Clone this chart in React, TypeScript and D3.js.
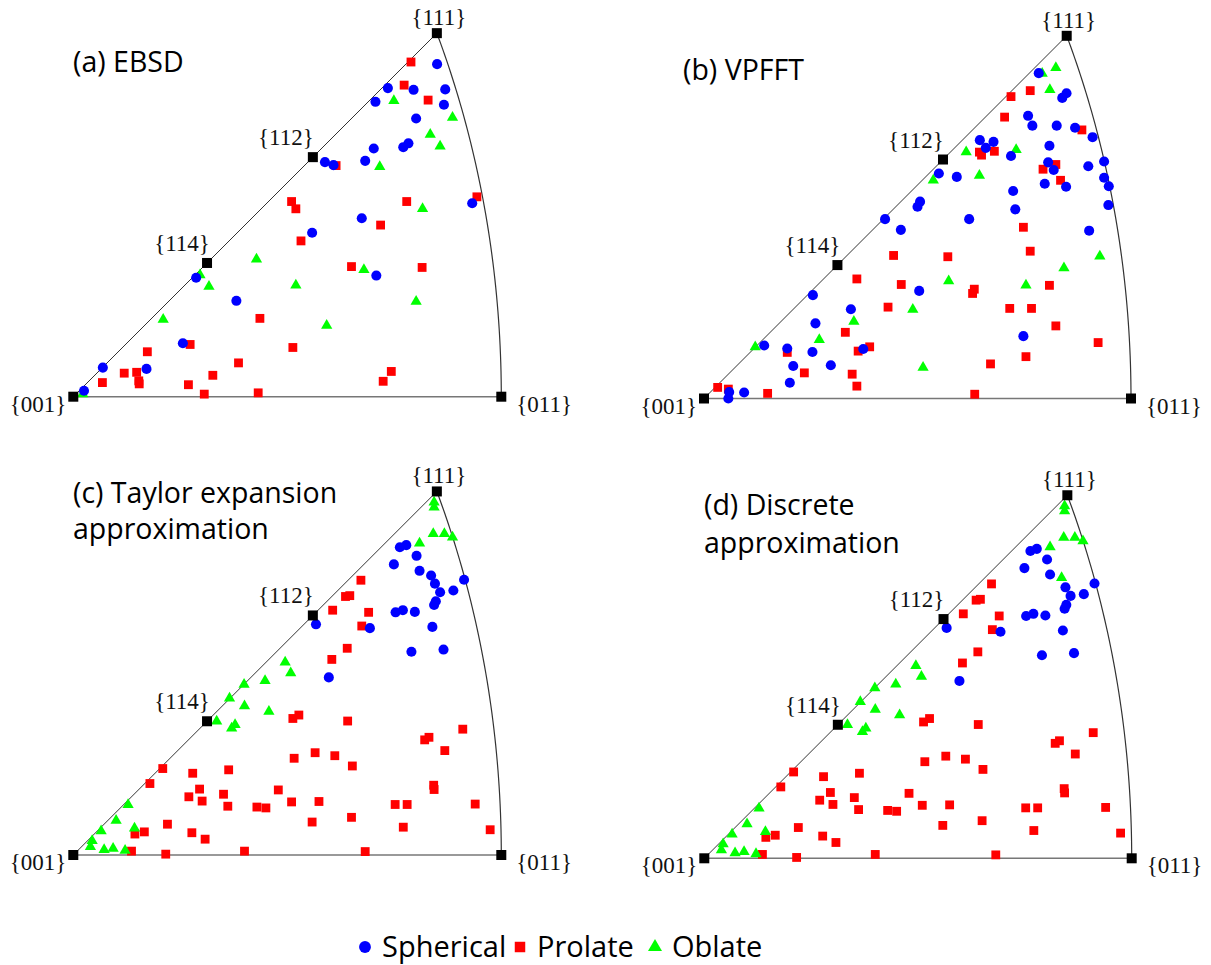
import React from 'react';
import * as d3 from 'd3';

type P = [number, number];

// Coordinates: equal-area projected positions, in percent of the {001}-{011} edge length
const aSpherical: P[] = [[85.0,77.7],[73.5,72.1],[79.5,71.7],[86.9,71.8],[70.6,68.9],[86.6,68.2],[80.1,65.0],[70.2,58.0],[77.1,58.3],[78.3,59.2],[68.2,55.1],[58.8,54.8],[60.8,54.1],[93.2,45.2],[67.4,41.7],[55.8,38.3],[70.8,28.3],[38.1,22.4],[28.7,27.8],[25.6,12.5],[6.9,6.8],[17.1,6.5],[2.5,1.4]];
const aProlate: P[] = [[78.9,78.2],[77.3,72.8],[82.9,69.3],[61.4,54.0],[77.9,45.6],[94.3,46.7],[51.0,45.6],[52.0,43.9],[71.8,40.1],[53.2,36.4],[65.0,30.4],[81.5,30.2],[43.6,18.3],[51.3,11.5],[38.6,7.9],[74.3,5.9],[72.4,3.6],[43.2,0.9],[27.3,12.2],[17.3,10.5],[11.9,5.5],[14.8,5.7],[15.3,3.7],[15.4,3.0],[6.8,3.3],[26.9,2.8],[32.6,5.0],[30.6,0.6]];
const aOblate: P[] = [[74.9,68.9],[88.6,65.0],[83.4,61.0],[85.7,58.3],[71.6,53.5],[81.6,43.7],[42.8,31.9],[67.9,29.4],[52.0,25.8],[80.1,22.0],[59.2,16.4],[29.6,28.2],[31.7,25.5],[21.0,17.8],[2.2,0.4]];

const bSpherical: P[] = [[78.4,76.2],[84.9,71.5],[83.9,70.4],[75.9,66.2],[76.9,63.9],[82.6,63.9],[86.9,63.4],[91.0,61.2],[64.6,60.5],[67.8,60.1],[66.0,58.7],[80.9,59.2],[71.9,56.8],[80.6,55.3],[81.9,53.5],[90.0,54.4],[93.7,55.5],[55.0,52.7],[59.2,51.9],[93.7,51.7],[94.8,49.7],[79.8,50.3],[84.8,49.6],[72.4,48.6],[50.6,46.1],[50.0,44.9],[72.9,44.3],[94.7,45.3],[42.4,42.0],[62.1,42.0],[46.1,39.5],[90.2,39.3],[50.4,25.2],[34.4,20.9],[37.3,11.6],[74.8,14.6],[25.5,24.2],[26.1,17.6],[14.1,12.4],[19.5,11.7],[25.4,10.9],[20.9,7.6],[29.7,7.8],[20.1,3.7],[5.9,1.5],[9.4,1.4],[5.7,0.0]];
const bProlate: P[] = [[71.9,70.7],[76.4,72.1],[70.4,65.9],[88.5,62.9],[64.5,57.7],[65.0,57.0],[68.0,57.9],[82.4,54.8],[79.4,53.7],[83.5,51.1],[74.8,40.1],[76.4,34.5],[44.4,33.5],[57.1,33.2],[35.8,28.0],[46.2,26.7],[63.3,25.6],[62.9,24.6],[80.9,26.5],[43.1,21.4],[71.6,21.1],[76.7,21.1],[82.4,17.0],[38.8,12.1],[36.1,11.1],[92.3,13.1],[75.4,9.8],[67.1,8.1],[34.7,5.7],[35.8,2.9],[63.4,1.0],[33.1,15.5],[19.5,10.8],[23.5,6.0],[3.2,2.6],[5.7,2.2],[14.9,1.2]];
const bOblate: P[] = [[82.4,77.2],[79.2,75.9],[81.0,72.1],[61.4,57.5],[73.1,58.0],[64.5,52.0],[53.7,50.9],[92.7,33.1],[84.3,30.3],[57.3,27.3],[75.4,26.3],[48.9,20.6],[35.1,17.8],[51.3,7.0],[27.0,13.5],[12.0,11.8]];

const cSpherical: P[] = [[76.3,71.9],[77.8,72.4],[80.2,69.9],[74.9,67.9],[80.9,66.4],[83.6,65.3],[84.5,63.4],[91.3,64.3],[85.7,61.4],[88.8,61.8],[84.7,59.3],[84.3,58.4],[75.3,56.7],[77.0,57.2],[79.8,56.8],[56.7,53.9],[69.3,53.0],[83.9,53.3],[79.0,47.5],[86.5,48.0],[59.7,41.5]];
const cProlate: P[] = [[67.2,64.2],[63.6,60.4],[64.6,60.6],[60.6,57.2],[69.0,56.7],[67.4,53.5],[64.0,48.3],[60.4,45.7],[52.7,32.7],[51.3,31.9],[56.5,23.9],[51.6,22.6],[20.9,20.2],[36.3,19.9],[27.9,19.1],[17.9,16.7],[29.5,15.4],[47.9,15.2],[27.0,13.6],[35.1,14.2],[30.1,12.6],[51.0,12.4],[57.4,12.5],[36.1,11.4],[42.9,11.2],[45.0,11.0],[55.8,7.7],[22.0,7.2],[16.6,5.4],[14.4,4.9],[27.7,5.2],[30.8,3.7],[40.0,0.9],[13.6,0.9],[21.6,0.2],[64.1,31.3],[91.0,29.4],[83.1,27.5],[82.1,26.9],[61.1,23.2],[86.8,24.4],[65.2,20.8],[84.2,16.3],[84.3,15.3],[75.2,11.8],[78.0,11.8],[93.9,11.9],[65.0,8.8],[77.1,6.5],[97.4,5.9],[68.2,0.8]];
const cOblate: P[] = [[84.3,82.2],[84.3,81.0],[84.1,74.8],[86.7,74.8],[88.6,74.0],[80.9,72.6],[49.5,44.8],[50.8,42.3],[44.8,40.5],[39.9,39.6],[36.5,36.4],[40.0,34.6],[45.7,33.3],[33.5,31.0],[37.8,30.2],[37.0,29.4],[12.8,11.5],[10.0,7.8],[6.5,5.4],[14.3,6.0],[4.4,3.1],[4.0,1.7],[7.2,1.0],[9.3,1.3],[12.1,0.8]];

const dSpherical: P[] = [[76.3,71.9],[77.8,72.4],[80.2,69.9],[74.9,67.9],[80.9,66.4],[84.5,63.4],[91.3,64.3],[85.7,61.4],[88.8,61.8],[84.7,59.3],[84.3,58.4],[75.3,56.7],[77.0,57.2],[79.8,56.8],[56.7,53.9],[69.3,53.0],[83.9,53.3],[79.0,47.5],[86.5,48.0],[59.7,41.5]];
const dProlate: P[] = [[67.2,64.2],[63.6,60.4],[64.6,60.6],[60.6,57.2],[69.0,56.7],[67.4,53.5],[64.0,48.3],[60.4,45.7],[52.7,32.7],[51.3,31.9],[56.5,23.9],[51.6,22.6],[20.9,20.2],[36.3,19.9],[27.9,19.1],[17.9,16.7],[29.5,15.4],[47.9,15.2],[27.0,13.6],[35.1,14.2],[30.1,12.6],[51.0,12.4],[57.4,12.5],[36.1,11.4],[42.9,11.2],[45.0,11.0],[55.8,7.7],[22.0,7.2],[16.6,5.4],[14.4,4.9],[27.7,5.2],[30.8,3.7],[40.0,0.9],[13.6,0.9],[21.6,0.2],[64.1,31.3],[91.0,29.4],[83.1,27.5],[82.1,26.9],[61.1,23.2],[86.8,24.4],[65.2,20.8],[84.2,16.3],[84.3,15.3],[75.2,11.8],[78.0,11.8],[93.9,11.9],[65.0,8.8],[77.1,6.5],[97.4,5.9],[68.2,0.8]];
const dOblate: P[] = [[84.3,82.2],[84.3,81.0],[84.1,74.8],[86.7,74.8],[88.6,74.0],[80.9,72.6],[83.6,65.4],[49.5,44.8],[50.8,42.3],[44.8,40.5],[39.9,39.6],[36.5,36.4],[40.0,34.6],[45.7,33.3],[33.5,31.0],[37.8,30.2],[37.0,29.4],[12.8,11.5],[10.0,7.8],[6.5,5.4],[14.3,6.0],[4.4,3.1],[4.0,1.7],[7.2,1.0],[9.3,1.3],[12.1,0.8]];

const seriesNames = ['Spherical', 'Prolate', 'Oblate'];
const seriesColors = ['#0000FF', '#FF0000', '#00FF00'];

const poleLabels: { name: string; hkl: [number, number, number]; anchor: string; dx: number; dy: number }[] = [
  { name: '{001}', hkl: [0, 0, 1], anchor: 'end', dx: -7, dy: 15 },
  { name: '{011}', hkl: [0, 1, 1], anchor: 'start', dx: 15, dy: 15 },
  { name: '{111}', hkl: [1, 1, 1], anchor: 'middle', dx: 2, dy: -8 },
  { name: '{112}', hkl: [1, 1, 2], anchor: 'middle', dx: -27, dy: -12 },
  { name: '{114}', hkl: [1, 1, 4], anchor: 'middle', dx: -25, dy: -12 },
];

// Lambert equal-area projection, normalised so that {011} lies at 100
const R0 = Math.sqrt(2 * (1 - Math.SQRT1_2));
function project([h, k, l]: [number, number, number]): P {
  const n = Math.hypot(h, k, l);
  const c = l / n;
  const r = Math.sqrt(2 * (1 - c));
  const az = Math.atan2(h, k);
  return [(100 * r * Math.cos(az)) / R0, (100 * r * Math.sin(az)) / R0];
}

const panels = [
  { x0: 73.3, y0: 396.7, L: 428, title: ['(a) EBSD'], tx: 73, ty: 72, lh: 36, data: [aSpherical, aProlate, aOblate] },
  { x0: 704, y0: 398.5, L: 427, title: ['(b) VPFFT'], tx: 683, ty: 80, lh: 36, data: [bSpherical, bProlate, bOblate] },
  { x0: 73.3, y0: 855, L: 428, title: ['(c) Taylor expansion', 'approximation'], tx: 73, ty: 503, lh: 36, data: [cSpherical, cProlate, cOblate] },
  { x0: 704.3, y0: 858.3, L: 427.4, title: ['(d) Discrete', 'approximation'], tx: 704, ty: 515, lh: 38, data: [dSpherical, dProlate, dOblate] },
];

const circlePath = d3.symbol().type(d3.symbolCircle).size(80)()!;
const squarePath = d3.symbol().type(d3.symbolSquare).size(78)()!;
const trianglePath = d3.symbol().type(d3.symbolTriangle).size(55)()!;
const symPaths = [circlePath, squarePath, trianglePath];

const legCircle = d3.symbol().type(d3.symbolCircle).size(110)()!;
const legSquare = d3.symbol().type(d3.symbolSquare).size(110)()!;
const legTriangle = d3.symbol().type(d3.symbolTriangle).size(85)()!;
const legPaths = [legCircle, legSquare, legTriangle];

const sansFont = '"Open Sans", Lato, sans-serif';
const serifFont = '"Liberation Serif", "Times New Roman", serif';

function Panel({ p }: { p: typeof panels[number] }) {
  const x = d3.scaleLinear().domain([0, 100]).range([p.x0, p.x0 + p.L]);
  const y = d3.scaleLinear().domain([0, 100]).range([p.y0, p.y0 - p.L]);
  const line = d3.line<P>().x((d) => x(d[0])).y((d) => y(d[1]));
  const arcPts = d3.range(0, 1.0001, 0.02).map((t) => project([t, 1, 1]));
  const p001 = project([0, 0, 1]);
  const p011 = project([0, 1, 1]);
  const p111 = project([1, 1, 1]);
  // draw order: prolate, oblate, spherical
  const order = [1, 2, 0];
  return (
    <g>
      <path d={line([p001, p011])!} fill="none" stroke="#777" strokeWidth={1.6} />
      <path d={line([p001, p111])!} fill="none" stroke="#333" strokeWidth={1} />
      <path d={line(arcPts)!} fill="none" stroke="#333" strokeWidth={1.2} />
      {order.map((si) =>
        p.data[si].map((d, i) => (
          <path
            key={`${si}-${i}`}
            d={symPaths[si]}
            transform={`translate(${x(d[0])},${y(d[1]) - (si === 2 ? 1 : 0)})`}
            fill={seriesColors[si]}
          />
        ))
      )}
      {poleLabels.map((lb) => {
        const q = project(lb.hkl);
        return (
          <g key={lb.name}>
            <rect x={x(q[0]) - 5} y={y(q[1]) - 5} width={10} height={10} fill="#000" />
            <text
              x={x(q[0]) + lb.dx}
              y={y(q[1]) + lb.dy}
              textAnchor={lb.anchor as any}
              fontFamily={serifFont}
              fontSize={23}
              fill="#111"
            >
              {lb.name}
            </text>
          </g>
        );
      })}
      {p.title.map((t, i) => (
        <text key={i} x={p.tx} y={p.ty + i * p.lh} fontFamily={sansFont} fontSize={28.5} fill="#000">
          {t}
        </text>
      ))}
    </g>
  );
}

const legendItems = [
  { si: 0, mx: 365, tx: 382 },
  { si: 1, mx: 520, tx: 537 },
  { si: 2, mx: 655, tx: 672 },
];

export default function App() {
  return (
    <svg
      width={1211}
      height={965}
      style={{ position: 'absolute', left: 0, top: 0, background: '#fff' }}
    >
      <rect width={1211} height={965} fill="#fff" />
      {panels.map((p, i) => (
        <Panel key={i} p={p} />
      ))}
      <g>
        {legendItems.map((it) => (
          <g key={it.si}>
            <path d={legPaths[it.si]} transform={`translate(${it.mx},${947})`} fill={seriesColors[it.si]} />
            <text x={it.tx} y={957} fontFamily={sansFont} fontSize={29} fill="#000">
              {seriesNames[it.si]}
            </text>
          </g>
        ))}
      </g>
    </svg>
  );
}
